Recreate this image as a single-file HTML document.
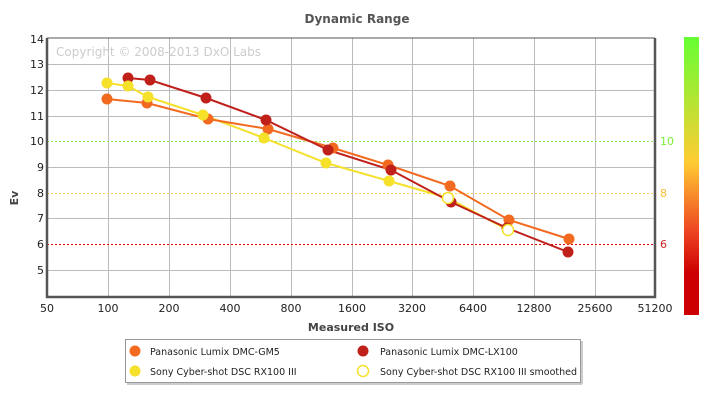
<!DOCTYPE html>
<html><head><style>
body{margin:0;background:#fff;}
svg text{font-family:"DejaVu Sans","Liberation Sans",sans-serif;}
</style></head><body>
<svg width="715" height="406" xmlns="http://www.w3.org/2000/svg">
<defs><linearGradient id="g" x1="0" y1="0" x2="0" y2="1">
<stop offset="0" stop-color="#66ff33"/><stop offset="0.45" stop-color="#ffcc33"/><stop offset="0.7" stop-color="#ee4422"/><stop offset="0.85" stop-color="#cc0000"/><stop offset="1" stop-color="#cc0000"/></linearGradient></defs>
<text x="357" y="23" text-anchor="middle" font-size="12" font-weight="bold" fill="#555">Dynamic Range</text>
<g stroke="#bbb" stroke-width="1">
<line x1="47" y1="64.5" x2="655" y2="64.5"/><line x1="47" y1="90.5" x2="655" y2="90.5"/><line x1="47" y1="116.5" x2="655" y2="116.5"/><line x1="47" y1="167.5" x2="655" y2="167.5"/><line x1="47" y1="218.5" x2="655" y2="218.5"/><line x1="47" y1="270.5" x2="655" y2="270.5"/>
<line x1="108.5" y1="38" x2="108.5" y2="297"/><line x1="169.5" y1="38" x2="169.5" y2="297"/><line x1="230.5" y1="38" x2="230.5" y2="297"/><line x1="291.5" y1="38" x2="291.5" y2="297"/><line x1="352.5" y1="38" x2="352.5" y2="297"/><line x1="412.5" y1="38" x2="412.5" y2="297"/><line x1="473.5" y1="38" x2="473.5" y2="297"/><line x1="534.5" y1="38" x2="534.5" y2="297"/><line x1="595.5" y1="38" x2="595.5" y2="297"/>
</g>
<line x1="47" y1="141.5" x2="655" y2="141.5" stroke="#88ee55" stroke-dasharray="2,2"/>
<line x1="47" y1="193.5" x2="655" y2="193.5" stroke="#ffcc55" stroke-dasharray="2,2"/>
<line x1="47" y1="244.5" x2="655" y2="244.5" stroke="#dd0000" stroke-dasharray="2,2"/>
<text x="56" y="56" font-size="12" fill="#ccc">Copyright © 2008-2013 DxO Labs</text>
<path d="M47,38V297H655V38" fill="none" stroke="#555" stroke-width="2.5"/>
<line x1="47" y1="38" x2="655" y2="38" stroke="#555" stroke-width="1"/>
<g font-size="11" fill="#222" text-anchor="end">
<text x="44" y="43">14</text><text x="44" y="68">13</text><text x="44" y="94">12</text><text x="44" y="120">11</text><text x="44" y="145">10</text><text x="44" y="171">9</text><text x="44" y="197">8</text><text x="44" y="222">7</text><text x="44" y="248">6</text><text x="44" y="274">5</text>
</g>
<text x="18" y="198" font-size="11" font-weight="bold" fill="#444" transform="rotate(-90 18 198)" text-anchor="middle">Ev</text>
<g font-size="11" fill="#222" text-anchor="middle">
<text x="47" y="312">50</text><text x="108" y="312">100</text><text x="169" y="312">200</text><text x="230" y="312">400</text><text x="291" y="312">800</text><text x="352" y="312">1600</text><text x="412" y="312">3200</text><text x="473" y="312">6400</text><text x="534" y="312">12800</text><text x="595" y="312">25600</text><text x="655" y="312">51200</text>
</g>
<text x="351" y="331" font-size="11" font-weight="bold" fill="#444" text-anchor="middle">Measured ISO</text>
<g font-size="11"><text x="660" y="145" fill="#77ee33">10</text><text x="660" y="197" fill="#ffbb33">8</text><text x="660" y="248" fill="#cc2222">6</text></g>
<rect x="684" y="37" width="15" height="278" fill="url(#g)"/>
<g fill="none" stroke-width="2">
<polyline stroke="#f5e02a" points="107,83 128,86 148,97 203,115 264,138 326,163 389,181 448,198 508,230"/>
<polyline stroke="#f26a1f" points="107,99 147,103 208,119 268,129 333,148 388,165 450,186 509,220 569,239"/>
<polyline stroke="#c0201a" points="128,78 150,80 206,98 266,120 328,150 391,170 451,202 507,228 568,252"/>
</g>
<g fill="#f26a1f"><circle cx="107" cy="99" r="5.5"/><circle cx="147" cy="103" r="5.5"/><circle cx="208" cy="119" r="5.5"/><circle cx="268" cy="129" r="5.5"/><circle cx="333" cy="148" r="5.5"/><circle cx="388" cy="165" r="5.5"/><circle cx="450" cy="186" r="5.5"/><circle cx="509" cy="220" r="5.5"/><circle cx="569" cy="239" r="5.5"/></g>
<g fill="#c0201a"><circle cx="128" cy="78" r="5.5"/><circle cx="150" cy="80" r="5.5"/><circle cx="206" cy="98" r="5.5"/><circle cx="266" cy="120" r="5.5"/><circle cx="328" cy="150" r="5.5"/><circle cx="391" cy="170" r="5.5"/><circle cx="451" cy="202" r="5.5"/><circle cx="507" cy="228" r="5.5"/><circle cx="568" cy="252" r="5.5"/></g>
<g fill="#f5e02a"><circle cx="107" cy="83" r="5.5"/><circle cx="128" cy="86" r="5.5"/><circle cx="148" cy="97" r="5.5"/><circle cx="203" cy="115" r="5.5"/><circle cx="264" cy="138" r="5.5"/><circle cx="326" cy="163" r="5.5"/><circle cx="389" cy="181" r="5.5"/></g>
<g fill="#fff" stroke="#f5e02a" stroke-width="1.5"><circle cx="448" cy="198" r="5.5"/><circle cx="508" cy="230" r="5.5"/></g>
<rect x="125.5" y="339.5" width="455" height="43" fill="#fff" stroke="#999"/>
<line x1="127" y1="384" x2="582" y2="384" stroke="#ccc" stroke-width="2"/>
<line x1="582" y1="341" x2="582" y2="384" stroke="#ccc" stroke-width="2"/>
<g font-size="9.5" fill="#222">
<circle cx="135" cy="351" r="5.5" fill="#f26a1f"/><text x="150" y="355">Panasonic Lumix DMC-GM5</text>
<circle cx="363" cy="351" r="5.5" fill="#c0201a"/><text x="380" y="355">Panasonic Lumix DMC-LX100</text>
<circle cx="135" cy="371" r="5.5" fill="#f5e02a"/><text x="150" y="375">Sony Cyber-shot DSC RX100 III</text>
<circle cx="363" cy="371" r="5.5" fill="#fff" stroke="#f5e02a" stroke-width="1.5"/><text x="380" y="375">Sony Cyber-shot DSC RX100 III smoothed</text>
</g>
</svg>
</body></html>
